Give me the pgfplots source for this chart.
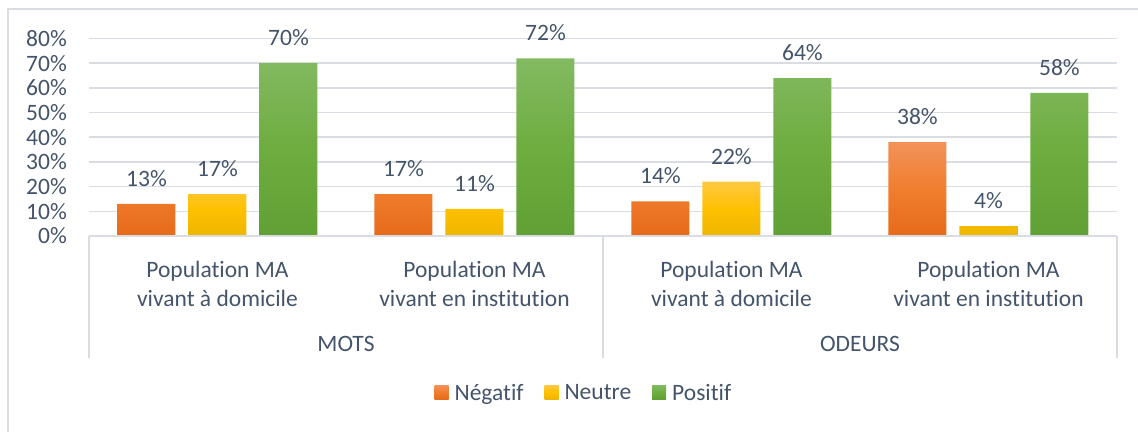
\documentclass[border=0pt]{standalone}
\usepackage{pgfplots}
\pgfplotsset{compat=1.18}
\usepackage{fontspec}
\setmainfont{Carlito}[Ligatures={NoCommon}]
\definecolor{txt}{RGB}{68,84,106}
\definecolor{gridc}{RGB}{217,221,227}
\definecolor{negT}{RGB}{242,146,90}
\definecolor{negM}{RGB}{240,126,46}
\definecolor{negB}{RGB}{230,106,26}
\definecolor{neuT}{RGB}{255,201,66}
\definecolor{neuM}{RGB}{255,192,0}
\definecolor{neuB}{RGB}{236,182,0}
\definecolor{posT}{RGB}{131,186,98}
\definecolor{posM}{RGB}{110,173,64}
\definecolor{posB}{RGB}{96,160,52}
\newcommand\cf{\fontsize{23.5bp}{29bp}\selectfont}
\begin{document}
\begin{tikzpicture}
\useasboundingbox (-89bp,-196bp) rectangle (1049bp,236bp);
\draw[gridc, line width=1.5bp] (-81bp,-200bp) -- (-81bp,227bp) -- (1055bp,227bp);
\begin{axis}[
  at={(0,0)}, anchor=south west,
  scale only axis, width=1028bp, height=197.5bp,
  xmin=-0.5, xmax=3.5, ymin=0, ymax=80,
  ytick={0,10,...,80},
  yticklabel={\pgfmathprintnumber{\tick}\%},
  /pgf/number format/assume math mode=true,
  ymajorgrids, major grid style={gridc, line width=1.6bp},
  axis line style={draw=none}, tick style={draw=none},
  yticklabel style={anchor=east, inner sep=0pt, xshift=-22bp, font=\cf, text=txt},
  xtick={0,1,2,3},
  xticklabels={{Population MA\\vivant à domicile},{Population MA\\vivant en institution},{Population MA\\vivant à domicile},{Population MA\\vivant en institution}},
  xticklabel style={align=center, anchor=base, inner sep=0pt, yshift=-66bp, font=\cf, text=txt},
  ybar, bar width=58bp,
  clip=false,
  nodes near coords={\pgfmathprintnumber{\pgfplotspointmeta}\%},
  every node near coord/.append style={anchor=base, yshift=17.5bp, inner sep=0pt, font=\cf, text=txt},
  legend columns=3,
  legend style={at={(0.4805,-0.795)}, anchor=center, draw=none, fill=none, font=\cf, text=txt,
    inner sep=0pt, column sep=0pt,
    /tikz/every odd column/.style={column sep=6bp},
    /tikz/every even column/.style={column sep=21bp},
    nodes={inner sep=0bp}},
  legend image code/.code={\path[#1, draw=none] (0bp,-6bp) rectangle (14bp,8bp);},
]
\addplot[draw=none, bar shift=-71bp, top color=negT, bottom color=negB, middle color=negM] coordinates {(0,13) (1,17) (2,14) (3,38)};
\addplot[draw=none, bar shift=0bp, top color=neuT, bottom color=neuB, middle color=neuM] coordinates {(0,17) (1,11) (2,22) (3,4)};
\addplot[draw=none, bar shift=71bp, top color=posT, bottom color=posB, middle color=posM] coordinates {(0,70) (1,72) (2,64) (3,58)};
\legend{Négatif,Neutre,Positif}
\draw[gridc, line width=1.5bp] (axis cs:-0.5,0) -- (axis cs:3.5,0);
\draw[gridc, line width=1.5bp] (axis cs:-0.5,0) -- ([yshift=-122bp]axis cs:-0.5,0);
\draw[gridc, line width=1.5bp] (axis cs:1.5,0) -- ([yshift=-122bp]axis cs:1.5,0);
\draw[gridc, line width=1.5bp] (axis cs:3.5,0) -- ([yshift=-122bp]axis cs:3.5,0);
\node[anchor=base, inner sep=0pt, font=\cf, text=txt] at ([yshift=-115bp]axis cs:0.5,0) {MOTS};
\node[anchor=base, inner sep=0pt, font=\cf, text=txt] at ([yshift=-115bp]axis cs:2.5,0) {ODEURS};
\end{axis}
\end{tikzpicture}
\end{document}
